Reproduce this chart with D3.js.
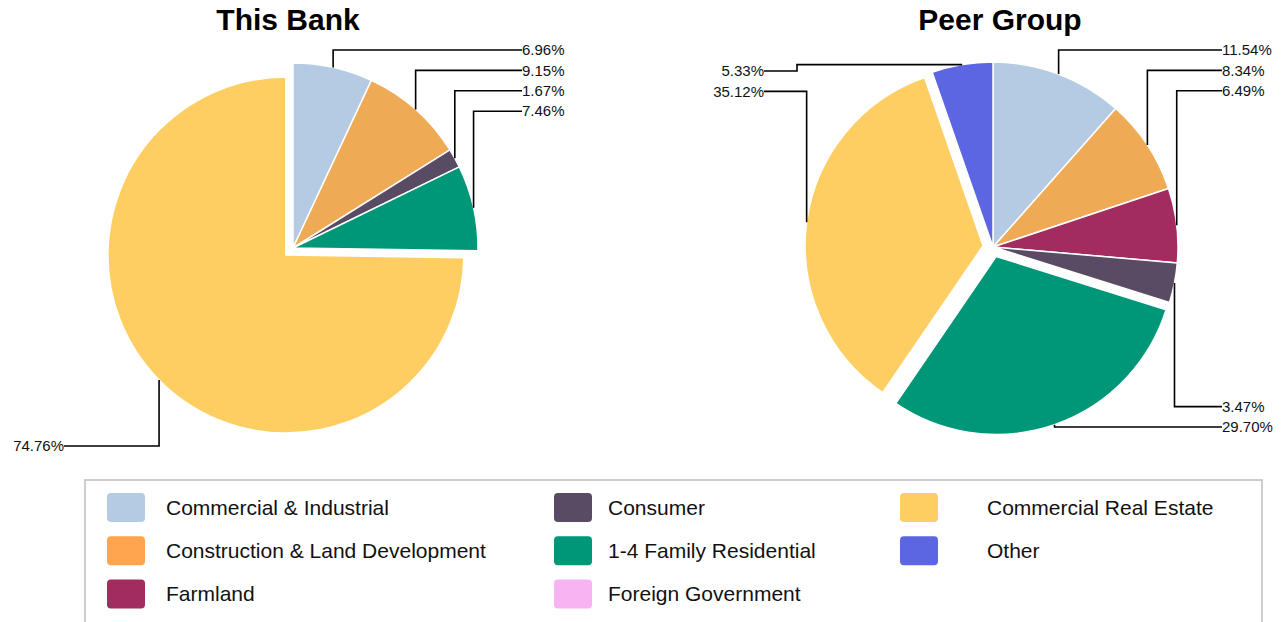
<!DOCTYPE html>
<html>
<head>
<meta charset="utf-8">
<script src="https://cdnjs.cloudflare.com/ajax/libs/d3/7.8.5/d3.min.js"></script>
<style>
  body { margin: 0; background: #fff; font-family: Arial, "Liberation Sans", sans-serif; }
</style>
</head>
<body>
<script>
// loan mix, percent of total loans
var categories = [
    "Commercial & Industrial",
    "Construction & Land Development",
    "Farmland",
    "Consumer",
    "1-4 Family Residential",
    "Foreign Government",
    "Commercial Real Estate",
    "Other"
];
var legendColors = ["#b5cae3", "#ffa54f", "#a22b5f", "#5a4b65", "#009678", "#f8b4f2", "#fece62", "#5c66e2"];
var sliceColors  = ["#b5cae3", "#eeaa55", "#a22b5f", "#5a4b65", "#009678", "#f8b4f2", "#fece62", "#5c66e2"];

var thisBank  = [6.96, 9.15, 0, 1.67, 7.46, 0, 74.76, 0];
var peerGroup = [11.54, 8.34, 6.49, 3.47, 29.70, 0, 35.12, 5.33];

var width = 1282,
    height = 622;

var svg = d3.select("body")
    .append("svg")
    .attr("width", width)
    .attr("height", height);

var radius = 185,
    pulledRadius = 178,
    pullOffset = 10,
    labelGap = 229,
    labelStep = 20.4;

var charts = [
    { title: "This Bank", values: thisBank, cx: 293, cy: 248, titleX: 288,
      pulled: ["Commercial Real Estate"],
      top: { right: 50, left: 50 }, bottom: { right: 446, left: 446 } },
    { title: "Peer Group", values: peerGroup, cx: 993, cy: 247, titleX: 1000,
      pulled: ["Commercial Real Estate", "1-4 Family Residential"],
      top: { right: 50, left: 71 }, bottom: { right: 427, left: 427 } }
];

var pie = d3.pie()
    .sort(null)
    .value(function(d) { return d.value; });

charts.forEach(function(c) {
    var g = svg.append("g");

    g.append("text")
        .attr("x", c.titleX)
        .attr("y", 30)
        .attr("text-anchor", "middle")
        .style("font-size", "30px")
        .style("font-weight", "bold")
        .style("fill", "#000")
        .text(c.title);

    var rows = categories.map(function(name, i) {
        return { name: name, value: c.values[i], i: i };
    }).filter(function(d) { return d.value > 0; });

    var arcs = pie(rows);

    arcs.forEach(function(a) {
        var mid = (a.startAngle + a.endAngle) / 2;
        var isPulled = c.pulled.indexOf(a.data.name) >= 0;
        a.mid = mid;
        a.r = isPulled ? pulledRadius : radius;
        a.sx = c.cx + (isPulled ? Math.sin(mid) * pullOffset : 0);
        a.sy = c.cy - (isPulled ? Math.cos(mid) * pullOffset : 0);
        a.px = a.sx + Math.sin(mid) * a.r;
        a.py = a.sy - Math.cos(mid) * a.r;
        a.side = Math.sin(mid) >= 0 ? "right" : "left";
        a.half = a.py < c.cy ? "top" : "bottom";
    });

    var arc = d3.arc().innerRadius(0);

    g.selectAll(".slice")
        .data(arcs)
        .enter().append("path")
        .attr("class", "slice")
        .attr("transform", function(d) { return "translate(" + d.sx + "," + d.sy + ")"; })
        .attr("d", function(d) { return arc.outerRadius(d.r)(d); })
        .style("fill", function(d) { return sliceColors[d.data.i]; })
        .style("stroke", "#fff")
        .style("stroke-width", 1.5);

    // stack the labels: top ones from the top down, bottom ones from the bottom up
    ["right", "left"].forEach(function(side) {
        var tops = arcs.filter(function(d) { return d.side === side && d.half === "top"; })
            .sort(function(a, b) { return a.py - b.py; });
        tops.forEach(function(d, k) { d.ly = c.top[side] + k * labelStep; });
        var bots = arcs.filter(function(d) { return d.side === side && d.half === "bottom"; })
            .sort(function(a, b) { return b.py - a.py; });
        bots.forEach(function(d, k) { d.ly = c.bottom[side] - k * labelStep; });
    });

    arcs.forEach(function(d) {
        var right = d.side === "right";
        var lx = right ? c.cx + labelGap : c.cx - labelGap;
        var p;
        if (Math.abs(d.ly - d.py) < 10 && Math.abs(d.ly - d.py) > 3) {
            var bx = right ? lx - 33 : lx + 33;
            p = "M" + d.px + "," + d.py + "H" + bx + "V" + d.ly + "H" + lx;
        } else {
            p = "M" + d.px + "," + d.py + "V" + d.ly + "H" + lx;
        }
        g.append("path")
            .attr("d", p)
            .style("fill", "none")
            .style("stroke", "#000")
            .style("stroke-width", 1.6);

        g.append("text")
            .attr("x", lx)
            .attr("y", d.ly)
            .attr("dy", "0.35em")
            .attr("text-anchor", right ? "start" : "end")
            .style("font-size", "15px")
            .style("fill", "#111")
            .text(d3.format(".2f")(d.data.value) + "%");
    });
});

// legend
var swatchX = [107, 554, 900],
    textX = [166, 608, 987],
    rowY = [507.5, 550.8, 594];

var legend = svg.append("g");

legend.append("rect")
    .attr("x", 85)
    .attr("y", 480)
    .attr("width", 1177)
    .attr("height", 170)
    .style("fill", "none")
    .style("stroke", "#bdbdbd")
    .style("stroke-width", 1.5);

var items = legend.selectAll(".item")
    .data(categories)
    .enter().append("g")
    .attr("class", "item")
    .attr("transform", function(d, i) {
        return "translate(0," + rowY[i % 3] + ")";
    });

items.append("rect")
    .attr("x", function(d, i) { return swatchX[Math.floor(i / 3)]; })
    .attr("y", -14.5)
    .attr("width", 38)
    .attr("height", 29)
    .attr("rx", 4)
    .style("fill", function(d, i) { return legendColors[i]; });

items.append("text")
    .attr("x", function(d, i) { return textX[Math.floor(i / 3)]; })
    .attr("y", 0)
    .attr("dy", "0.35em")
    .style("font-size", "21px")
    .style("fill", "#111")
    .text(function(d) { return d; });
</script>
</body>
</html>
